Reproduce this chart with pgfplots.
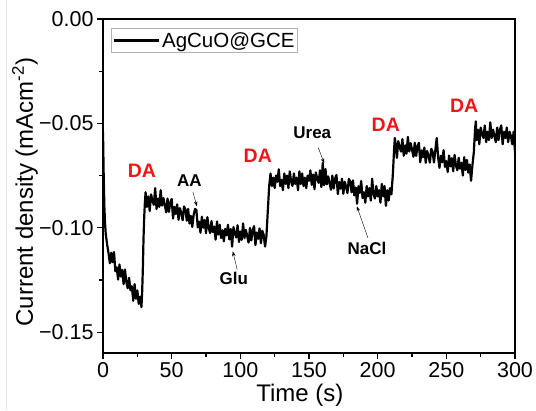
\documentclass[border=0pt]{standalone}
\usepackage{pgfplots}
\pgfplotsset{compat=1.18}
\usepackage{pgfplotstable}
\usepackage{fontspec}
\setmainfont{Liberation Sans}
\usetikzlibrary{arrows.meta}
\definecolor{dared}{RGB}{240,22,22}
\pgfplotstableread{
t y
0 -0.054
0.5 -0.075
1 -0.090
1.5 -0.098
2 -0.103
3 -0.108
4 -0.112
5 -0.117
6 -0.112
7 -0.1165
8 -0.1116
9 -0.1208
10 -0.119
11 -0.1248
12 -0.1176
13 -0.1234
14 -0.1202
15 -0.127
16 -0.120
17 -0.126
18 -0.129
19 -0.124
20 -0.130
21 -0.128
22 -0.135
23 -0.127
24 -0.134
25 -0.130
26 -0.1365
27 -0.133
28 -0.138
28.5 -0.131
29 -0.120
29.5 -0.105
30 -0.095
30.5 -0.088
31 -0.083
32 -0.090
33 -0.085
34 -0.092
35 -0.084
36 -0.087
37 -0.089
38 -0.081
39 -0.091
40 -0.086
41 -0.090
42 -0.082
43 -0.0894
44 -0.0858
45 -0.0892
46 -0.0926
47 -0.0860
48 -0.0924
49 -0.0878
50 -0.0862
51 -0.0956
52 -0.0900
53 -0.0934
54 -0.0888
55 -0.0962
56 -0.0906
57 -0.0930
58 -0.0964
59 -0.0898
60 -0.0912
61 -0.0966
62 -0.0910
63 -0.0980
64 -0.0943
65 -0.0996
66 -0.0939
67 -0.0910
68 -0.0915
69 -0.0998
70 -0.0971
71 -0.1024
72 -0.0947
73 -0.1000
74 -0.0963
75 -0.1026
76 -0.0949
77 -0.1002
78 -0.1025
79 -0.0968
80 -0.1021
81 -0.0994
82 -0.1057
83 -0.0970
84 -0.1033
85 -0.0986
86 -0.1049
87 -0.1012
88 -0.1065
89 -0.1005
90 -0.1036
91 -0.0986
92 -0.1056
93 -0.1006
94 -0.1090
95 -0.0997
96 -0.1027
97 -0.1047
98 -0.0988
99 -0.1068
100 -0.1018
101 -0.1058
102 -0.0979
103 -0.1050
104 -0.1010
105 -0.1040
106 -0.1071
107 -0.1001
108 -0.1061
109 -0.1012
110 -0.0992
111 -0.1083
112 -0.1023
113 -0.1053
114 -0.1003
115 -0.1074
116 -0.1014
117 -0.1035
118 -0.1090
119 -0.1040
120 -0.0920
121 -0.0800
122 -0.0740
123 -0.0800
124 -0.0760
125 -0.0810
126 -0.0750
127 -0.0780
128 -0.0720
129 -0.0800
130 -0.0770
131 -0.0820
132 -0.0740
133 -0.0790
134 -0.0750
135 -0.0810
136 -0.0730
137 -0.0780
138 -0.0800
139 -0.0740
140 -0.0790
141 -0.0760
142 -0.0820
143 -0.0730
144 -0.0790
145 -0.0740
146 -0.0800
147 -0.0760
148 -0.0810
149 -0.0750
150 -0.0775
151 -0.0725
152 -0.0795
153 -0.0745
154 -0.0815
155 -0.0735
156 -0.0765
157 -0.0785
158 -0.0725
159 -0.0805
160 -0.0690
161 -0.0797
162 -0.0719
163 -0.0792
164 -0.0754
165 -0.0786
166 -0.0818
167 -0.0750
168 -0.0812
169 -0.0764
170 -0.0747
171 -0.0839
172 -0.0781
173 -0.0813
174 -0.0765
175 -0.0837
176 -0.0780
177 -0.0802
178 -0.0834
179 -0.0766
180 -0.0778
181 -0.0830
182 -0.0773
183 -0.0845
184 -0.0807
185 -0.0885
186 -0.0801
187 -0.0833
188 -0.0776
189 -0.0858
190 -0.0830
191 -0.0880
192 -0.0800
193 -0.0850
194 -0.0810
195 -0.0870
196 -0.0765
197 -0.0840
198 -0.0860
199 -0.0800
200 -0.0850
201 -0.0820
202 -0.0880
203 -0.0790
204 -0.0850
205 -0.0800
206 -0.0895
207 -0.0820
208 -0.0870
209 -0.0810
210 -0.0840
211 -0.0750
212 -0.0620
212.5 -0.0570
213 -0.0595
214 -0.0665
215 -0.0585
216 -0.0615
217 -0.0635
218 -0.0575
219 -0.0655
220 -0.0605
221 -0.0645
222 -0.0565
223 -0.0635
224 -0.0595
225 -0.0625
226 -0.0660
227 -0.0593
228 -0.0656
229 -0.0610
230 -0.0593
231 -0.0686
232 -0.0629
233 -0.0662
234 -0.0616
235 -0.0689
236 -0.0632
237 -0.0655
238 -0.0688
239 -0.0622
240 -0.0635
241 -0.0687
242 -0.0628
243 -0.0570
244 -0.0661
245 -0.0713
246 -0.0655
247 -0.0686
248 -0.0628
249 -0.0709
250 -0.0681
251 -0.0733
252 -0.0654
253 -0.0706
254 -0.0667
255 -0.0729
256 -0.0651
257 -0.0702
258 -0.0724
259 -0.0665
260 -0.0717
261 -0.0689
262 -0.0750
263 -0.0662
264 -0.0723
265 -0.0675
266 -0.0736
267 -0.0697
268 -0.0775
269 -0.0700
270 -0.0640
271 -0.0520
271.5 -0.0490
272 -0.0580
273 -0.0530
274 -0.0600
275 -0.0520
276 -0.0550
277 -0.0570
278 -0.0510
279 -0.0590
280 -0.0540
281 -0.0580
282 -0.0495
283 -0.0570
284 -0.0530
285 -0.0560
286 -0.0590
287 -0.0520
288 -0.0580
289 -0.0530
290 -0.0510
291 -0.0600
292 -0.0540
293 -0.0570
294 -0.0520
295 -0.0590
296 -0.0540
297 -0.0560
298 -0.0600
299 -0.0540
300 -0.0640
}\datatable
\begin{document}
\begin{tikzpicture}
\begin{axis}[
  scale only axis, width=412pt, height=334pt,
  xmin=0, xmax=300, ymin=-0.16, ymax=0,
  xtick={0,50,...,300}, minor x tick num=1,
  ytick={-0.15,-0.1,-0.05,0}, yticklabels={−0.15,−0.10,−0.05,0.00},
  minor y tick num=1,
  tick pos=left, tick align=outside,
  major tick length=6pt, minor tick length=3.5pt,
  tick style={black, line width=1.2pt},
  axis line style={line width=1.5pt},
  /pgf/number format/assume math mode=true,
  tick label style={font=\fontsize{21.5}{25}\selectfont},
  xlabel={Time (s)},
  ylabel={Current density (mAcm\textsuperscript{-2})},
  label style={font=\fontsize{24}{28}\selectfont},
  xlabel style={at={(axis description cs:0.478,0)}, anchor=base, yshift=-48pt},
  ylabel style={at={(axis description cs:-0.170,0.482)}, anchor=base, rotate=0},
  legend style={at={(axis description cs:0.0194,0.973)}, anchor=north west,
    draw=gray!60, line width=0.6pt, font=\fontsize{20.5}{22}\selectfont,
    inner xsep=1pt, inner ysep=2pt},
  legend cell align=left,
  legend image code/.code={\draw[line width=2.8pt] (0pt,0pt) -- (45pt,0pt);},
]
\addplot[black, line width=2.2pt, line join=round] table[x=t, y=y] {\datatable};
\addlegendentry{AgCuO@GCE}
\node[text=dared, font=\bfseries\fontsize{19.5}{20}\selectfont] at (axis cs:28.4,-0.0727) {DA};
\node[text=dared, font=\bfseries\fontsize{19.5}{20}\selectfont] at (axis cs:112.7,-0.0656) {DA};
\node[text=dared, font=\bfseries\fontsize{19.5}{20}\selectfont] at (axis cs:205.9,-0.0505) {DA};
\node[text=dared, font=\bfseries\fontsize{19.5}{20}\selectfont] at (axis cs:263,-0.0415) {DA};
\node[font=\bfseries\fontsize{17}{18}\selectfont] at (axis cs:62.9,-0.0775) {AA};
\node[font=\bfseries\fontsize{17}{18}\selectfont] at (axis cs:95.3,-0.1244) {Glu};
\node[font=\bfseries\fontsize{17}{18}\selectfont] at (axis cs:152.4,-0.0545) {Urea};
\node[font=\bfseries\fontsize{17}{18}\selectfont] at (axis cs:192.2,-0.1100) {NaCl};
\draw[-{Stealth[length=5pt,width=3.5pt]}, line width=0.4pt] (axis cs:65.4,-0.0828) -- (axis cs:68.4,-0.0897);
\draw[-{Stealth[length=5pt,width=3.5pt]}, line width=0.4pt] (axis cs:97.7,-0.1200) -- (axis cs:94.5,-0.1113);
\draw[-{Stealth[length=5pt,width=3.5pt]}, line width=0.4pt] (axis cs:156.7,-0.0616) -- (axis cs:161.1,-0.0691);
\draw[-{Stealth[length=5pt,width=3.5pt]}, line width=0.4pt] (axis cs:193.0,-0.1050) -- (axis cs:184.8,-0.0897);
\end{axis}
\draw[gray!20, line width=1pt] ([shift={(-96pt,-57pt)}]current axis.south west) -- ([shift={(-96pt,19pt)}]current axis.south west |- current axis.north west);
\pgfresetboundingbox
\useasboundingbox ([shift={(-103pt,-57pt)}]current axis.south west) rectangle ([shift={(21pt,19pt)}]current axis.north east);
\end{tikzpicture}
\end{document}
